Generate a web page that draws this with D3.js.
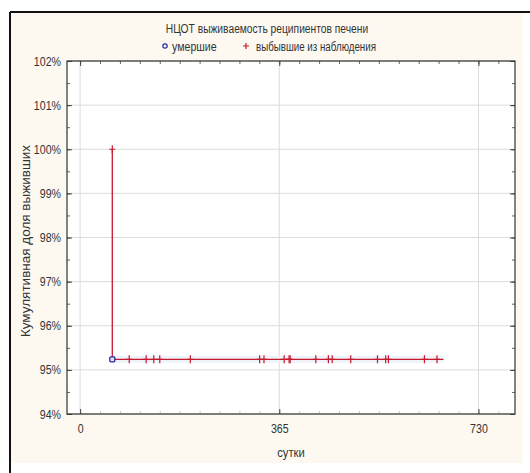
<!DOCTYPE html>
<html><head><meta charset="utf-8">
<script src="https://cdn.jsdelivr.net/npm/d3@7"></script>
<style>body{margin:0;background:#fff}svg{display:block}text{font-family:"Liberation Sans",Arial,sans-serif;fill:#333}</style>
</head><body><div id="chart"></div>
<script>
const title = "НЦОТ выживаемость реципиентов печени";
const legendLabels = ["умершие", "выбывшие из наблюдения"];
const xTickValues = [0, 365, 730];
const yTickValues = [0.94, 0.95, 0.96, 0.97, 0.98, 0.99, 1.00, 1.01, 1.02];
const xTitle = "сутки";
const yTitle = "Кумулятивная доля выживших";
// Kaplan–Meier: step from 100% to survival after the death
const deathTimes = [59];
const survivalAfterDeath = [0.9524];
const startCensored = [{t: 59, s: 1.0}];
const censoredTimes = [90, 121, 135, 146, 202, 329, 337, 374, 383, 385, 432, 455, 462, 496, 545, 560, 565, 631, 654];
const lastFollowUp = 666;

const W = 530, H = 473, FS = 12.5;
// condensed look: shrink text horizontally
function condense(sel, k) {
  sel.each(function() {
    const len = this.getComputedTextLength();
    d3.select(this).attr("textLength", len * k).attr("lengthAdjust", "spacingAndGlyphs");
  });
}
const svg = d3.select("#chart").append("svg").attr("width", W).attr("height", H);
// frame
svg.append("rect").attr("x", 10).attr("y", 12).attr("width", 513).attr("height", 451).attr("fill", "#fdf9f1");
svg.append("line").attr("x1", 10).attr("x2", 530).attr("y1", 12).attr("y2", 12).attr("stroke", "#111").attr("stroke-width", 2);
svg.append("line").attr("x1", 10).attr("x2", 10).attr("y1", 12).attr("y2", 473).attr("stroke", "#111").attr("stroke-width", 2);

const L = 67, R = 515, T = 61, B = 414;
const x = d3.scaleLinear().domain([-24, 797]).range([L, R]);
const y = d3.scaleLinear().domain([0.94, 1.02]).range([B, T]);

svg.append("rect").attr("x", L).attr("y", T).attr("width", R - L).attr("height", B - T).attr("fill", "#fff");
// grid
const g = svg.append("g");
g.selectAll(".gx").data(xTickValues).join("line").attr("x1", d => x(d)).attr("x2", d => x(d)).attr("y1", T).attr("y2", B).attr("stroke", "#dcdcdc");
g.selectAll(".gy").data(yTickValues).join("line").attr("x1", L).attr("x2", R).attr("y1", d => y(d)).attr("y2", d => y(d)).attr("stroke", "#dcdcdc");

// minor ticks
const xMinor = d3.range(0, 797, 36.5);
const yMinor = d3.range(0.94, 1.0201, 0.005);
svg.append("g").attr("transform", `translate(0,${T})`).call(d3.axisBottom(x).tickValues(xMinor).tickSize(3).tickFormat("")).call(a => { a.select(".domain").remove(); a.selectAll("line").attr("stroke", "#666"); });
svg.append("g").attr("transform", `translate(0,${B})`).call(d3.axisTop(x).tickValues(xMinor).tickSize(3).tickFormat("")).call(a => { a.select(".domain").remove(); a.selectAll("line").attr("stroke", "#ccc"); });
svg.append("g").attr("transform", `translate(${L},0)`).call(d3.axisRight(y).tickValues(yMinor).tickSize(3).tickFormat("")).call(a => { a.select(".domain").remove(); a.selectAll("line").attr("stroke", "#666"); });
svg.append("g").attr("transform", `translate(${R},0)`).call(d3.axisLeft(y).tickValues(yMinor).tickSize(3).tickFormat("")).call(a => { a.select(".domain").remove(); a.selectAll("line").attr("stroke", "#666"); });

// major axes with labels
const yAxis = svg.append("g").attr("transform", `translate(${L},0)`).call(d3.axisLeft(y).tickValues(yTickValues).tickSize(0).tickPadding(6).tickFormat(d => Math.round(d * 100) + "%"));
yAxis.select(".domain").remove();
yAxis.selectAll("text").attr("font-size", FS).attr("fill", "#333").style("font-family", "Liberation Sans, Arial, sans-serif").call(condense, 0.85);
svg.append("g").attr("transform", `translate(${L},0)`).call(d3.axisRight(y).tickValues(yTickValues).tickSize(5).tickFormat("")).call(a => { a.select(".domain").remove(); a.selectAll("line").attr("stroke", "#444"); });
svg.append("g").attr("transform", `translate(${R},0)`).call(d3.axisLeft(y).tickValues(yTickValues).tickSize(5).tickFormat("")).call(a => { a.select(".domain").remove(); a.selectAll("line").attr("stroke", "#444"); });
const xAxis = svg.append("g").attr("transform", `translate(0,${B})`).call(d3.axisBottom(x).tickValues(xTickValues).tickSize(0).tickPadding(10).tickFormat(d3.format("d")));
xAxis.select(".domain").remove();
xAxis.selectAll("text").attr("font-size", FS).attr("fill", "#333").style("font-family", "Liberation Sans, Arial, sans-serif").call(condense, 0.85);
svg.append("g").attr("transform", `translate(0,${B})`).call(d3.axisTop(x).tickValues(xTickValues).tickSize(5).tickFormat("")).call(a => { a.select(".domain").remove(); a.selectAll("line").attr("stroke", "#444"); });
svg.append("g").attr("transform", `translate(0,${T})`).call(d3.axisBottom(x).tickValues(xTickValues).tickSize(5).tickFormat("")).call(a => { a.select(".domain").remove(); a.selectAll("line").attr("stroke", "#444"); });

svg.append("rect").attr("x", L).attr("y", T).attr("width", R - L).attr("height", B - T).attr("fill", "none").attr("stroke", "#333").attr("stroke-width", 1.2);

// curve
const red = "#c8182e";
const steps = [
  [deathTimes[0], startCensored[0].s],
  [deathTimes[0], survivalAfterDeath[0]],
  [lastFollowUp, survivalAfterDeath[0]]
];
const line = d3.line().x(d => x(d[0])).y(d => y(d[1]));
svg.append("path").attr("d", line([[deathTimes[0], survivalAfterDeath[0]], [lastFollowUp, survivalAfterDeath[0]]])).attr("stroke", "#eef3fa").attr("stroke-width", 7).attr("fill", "none");
svg.append("path").attr("d", line(steps)).attr("stroke", red).attr("stroke-width", 1.3).attr("fill", "none");
// censored marks
const plus = (cx, cy, s, h) => `M${cx - s},${cy}H${cx + s}M${cx},${cy - h}V${cy + h}`;
svg.selectAll(".cens").data(censoredTimes).join("path").attr("d", d => plus(x(d), y(survivalAfterDeath[0]), 3, 4)).attr("stroke", red).attr("stroke-width", 1.2).attr("fill", "none");
svg.selectAll(".cens0").data(startCensored).join("path").attr("d", d => plus(x(d.t), y(d.s), 3, 4)).attr("stroke", red).attr("stroke-width", 1.2).attr("fill", "none");
// death marker
svg.selectAll(".death").data(deathTimes).join("rect").attr("x", d => x(d) - 2.5).attr("y", (d, i) => y(survivalAfterDeath[i]) - 2.5).attr("width", 5).attr("height", 5).attr("rx", 1).attr("fill", "#dde0f5").attr("stroke", "#2a2aa0").attr("stroke-width", 1.3);

// titles
svg.append("text").attr("x", 267).attr("y", 33).attr("text-anchor", "middle").attr("font-size", FS).text(title).call(condense, 0.82);
svg.append("circle").attr("cx", 165).attr("cy", 46).attr("r", 2.2).attr("fill", "none").attr("stroke", "#2a2aa0").attr("stroke-width", 1.2);
svg.append("text").attr("x", 172).attr("y", 50.5).attr("font-size", FS).text(legendLabels[0]).call(condense, 0.85);
svg.append("path").attr("d", plus(246, 46, 3, 3)).attr("stroke", red).attr("stroke-width", 1.2);
svg.append("text").attr("x", 256).attr("y", 50.5).attr("font-size", FS).text(legendLabels[1]).call(condense, 0.78);
svg.append("text").attr("x", 291).attr("y", 457).attr("text-anchor", "middle").attr("font-size", FS).text(xTitle).call(condense, 0.9);
svg.append("text").attr("transform", "translate(30,241) rotate(-90)").attr("text-anchor", "middle").attr("font-size", 13.5).text(yTitle).call(condense, 1.0);
</script></body></html>
